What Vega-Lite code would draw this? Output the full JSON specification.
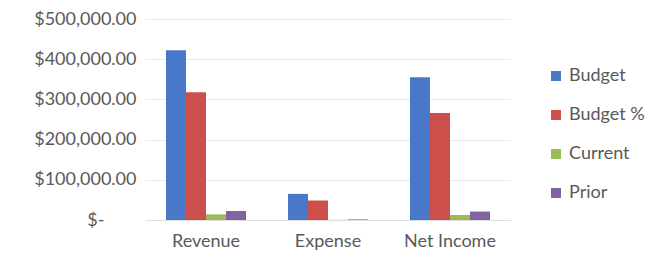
{
  "$schema": "https://vega.github.io/schema/vega-lite/v6.json",
  "autosize": "none",
  "width": 366,
  "height": 201,
  "padding": {"left": 145, "top": 19, "right": 148, "bottom": 41},
  "background": "white",
  "config": {
    "view": {"stroke": null},
    "font": "Lato"
  },
  "data": {
    "values": [
      {"category": "Revenue", "series": "Budget", "value": 422500},
      {"category": "Revenue", "series": "Budget %", "value": 317500},
      {"category": "Revenue", "series": "Current", "value": 14000},
      {"category": "Revenue", "series": "Prior", "value": 22500},
      {"category": "Expense", "series": "Budget", "value": 65000},
      {"category": "Expense", "series": "Budget %", "value": 48500},
      {"category": "Expense", "series": "Current", "value": 500},
      {"category": "Expense", "series": "Prior", "value": 1500},
      {"category": "Net Income", "series": "Budget", "value": 355000},
      {"category": "Net Income", "series": "Budget %", "value": 266000},
      {"category": "Net Income", "series": "Current", "value": 12500},
      {"category": "Net Income", "series": "Prior", "value": 21000}
    ]
  },
  "mark": {"type": "bar"},
  "encoding": {
    "x": {
      "field": "category",
      "type": "nominal",
      "sort": ["Revenue", "Expense", "Net Income"],
      "scale": {"paddingInner": 0.344, "paddingOuter": 0.172},
      "axis": {
        "title": null,
        "labelAngle": 0,
        "labelFontSize": 18,
        "labelColor": "#595959",
        "labelPadding": 12,
        "ticks": false,
        "domainColor": "#e0e0e0",
        "domainWidth": 1
      }
    },
    "xOffset": {
      "field": "series",
      "type": "nominal",
      "sort": ["Budget", "Budget %", "Current", "Prior"],
      "scale": {"paddingInner": 0, "paddingOuter": 0}
    },
    "y": {
      "field": "value",
      "type": "quantitative",
      "scale": {"domain": [0, 500000], "nice": false},
      "axis": {
        "title": null,
        "values": [0, 100000, 200000, 300000, 400000, 500000],
        "labelExpr": "datum.value == 0 ? '$-' : format(datum.value, '$,.2f')",
        "labelFontSize": 18,
        "labelColor": "#595959",
        "labelPadding": {"condition": {"test": "datum.value == 0", "value": 41}, "value": 9},
        "ticks": false,
        "domain": false,
        "gridColor": "#ececec",
        "gridWidth": 1
      }
    },
    "color": {
      "field": "series",
      "type": "nominal",
      "sort": ["Budget", "Budget %", "Current", "Prior"],
      "scale": {
        "domain": ["Budget", "Budget %", "Current", "Prior"],
        "range": ["#4a78c8", "#cc4f4c", "#9bbb59", "#8064a2"]
      },
      "legend": {
        "title": null,
        "orient": "none",
        "legendX": 402,
        "legendY": 48,
        "symbolType": "square",
        "symbolSize": 100,
        "symbolStrokeWidth": 0,
        "labelFontSize": 18,
        "labelColor": "#595959",
        "labelOffset": 4,
        "rowPadding": 21
      }
    }
  }
}
